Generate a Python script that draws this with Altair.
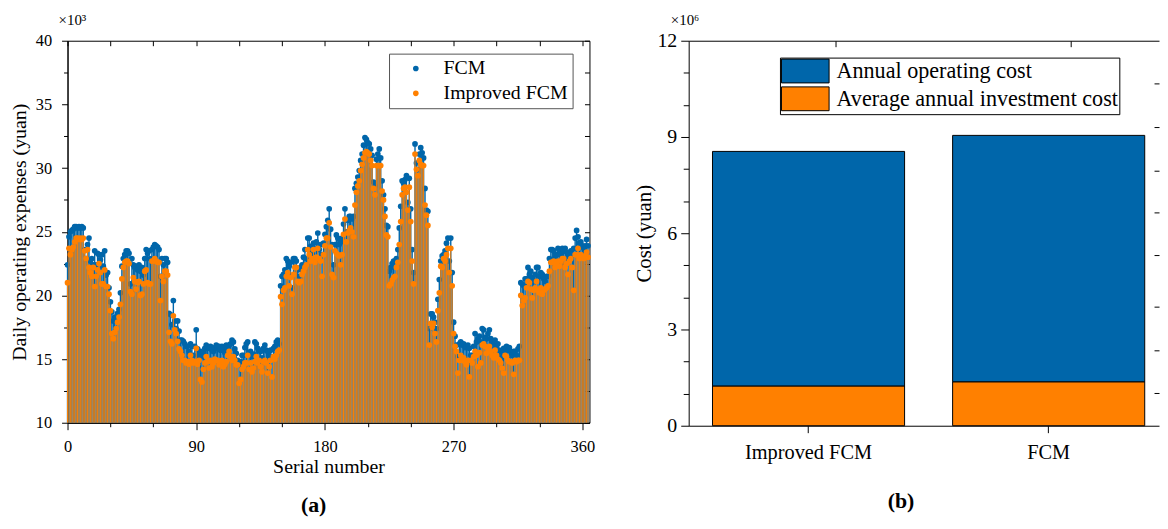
import altair as alt
import pandas as pd

BLUE = "#0066AA"
ORANGE = "#FF8000"
FONT = "Liberation Serif"

# ---------------- panel (a): daily operating expenses (x10^3 yuan) ----------------
fcm_a = [22.4, 24.6, 25.0, 25.1, 25.2, 25.4, 25.4, 25.3, 25.4, 25.3,
         25.4, 25.3, 23.6, 22.9, 24.0, 24.5, 22.7, 22.9, 22.4, 23.5,
         22.4, 23.3, 23.2, 22.8, 23.2, 22.3, 23.5, 21.6, 21.8, 20.6,
         19.5, 18.7, 18.0, 18.3, 18.3, 18.6, 18.9, 20.2, 22.3, 22.9,
         23.2, 23.5, 23.5, 23.3, 20.9, 22.9, 22.4, 22.2, 22.3, 22.0,
         22.4, 21.9, 22.2, 21.6, 22.9, 23.6, 23.3, 23.5, 22.9, 23.6,
         23.8, 24.0, 23.9, 23.8, 23.6, 21.5, 22.9, 22.4, 22.9, 22.9,
         22.6, 18.6, 18.5, 17.7, 19.6, 18.0, 17.4, 18.0, 17.2, 16.5,
         16.5, 16.4, 16.2, 16.0, 16.0, 15.6]
imp_a = [21.0, 23.7, 23.2, 23.6, 23.8, 24.2, 24.5, 24.5, 24.4, 24.5,
         24.4, 24.5, 23.5, 22.9, 23.6, 22.2, 21.8, 21.5, 22.2, 20.7,
         21.5, 22.0, 22.5, 21.8, 20.9, 20.9, 22.0, 20.7, 20.7, 20.1,
         18.8, 17.0, 16.6, 17.1, 17.4, 17.9, 18.3, 19.3, 21.3, 22.2,
         22.6, 22.7, 22.7, 22.5, 20.3, 20.1, 21.4, 21.1, 20.5, 21.0,
         21.1, 20.0, 20.1, 20.9, 21.9, 22.0, 21.0, 20.9, 20.9, 22.7,
         22.7, 22.9, 22.7, 22.6, 22.6, 19.6, 21.5, 21.1, 21.9, 21.9,
         21.6, 17.1, 16.4, 16.2, 18.4, 17.3, 17.0, 16.4, 15.8, 15.6,
         15.3, 14.9, 14.9, 14.7, 14.8, 14.6]
fcm_b = [16.2, 16.0, 15.3, 16.0, 17.3, 15.8, 15.3, 15.6, 15.2, 15.5,
         15.85, 16.1, 15.9, 15.85, 16.0, 15.7, 15.6, 15.9, 16.1, 15.85,
         16.0, 15.7, 16.0, 15.85, 15.5, 16.1, 15.85, 16.1, 16.2, 16.5,
         16.35, 15.8, 15.45, 14.9, 14.7, 14.8, 15.3, 15.3, 15.9, 16.2,
         16.35, 15.3, 15.6, 15.2, 15.4, 16.35, 16.2, 15.85, 15.7, 15.6,
         15.1, 15.85, 16.1, 15.7, 15.6, 15.3, 15.7, 15.1, 15.85, 16.0,
         16.35, 16.5, 16.2,
         20.75, 21.5, 21.65, 22.0, 22.9, 22.7, 22.3, 22.6, 20.6, 22.9,
         22.9, 22.7, 22.0, 21.5, 22.2, 22.4, 23.0, 23.6, 22.9, 24.5,
         24.5, 23.85, 23.3, 24.1, 23.7, 24.2, 24.9, 23.6, 24.0, 23.2,
         24.1, 24.8, 25.4]
imp_b = [15.3, 14.9, 14.7, 14.8, 15.85, 14.6, 14.9, 13.4, 13.2, 14.2,
         14.7, 15.2, 14.8, 14.3, 14.9, 14.4, 14.7, 15.0, 14.9, 14.9,
         14.55, 14.8, 14.9, 14.4, 14.6, 14.8, 15.3, 15.6, 15.2, 14.9,
         15.2, 14.9, 14.55, 14.55, 13.1, 13.4, 14.2, 14.4, 14.7, 14.7,
         15.3, 14.2, 14.7, 14.0, 14.3, 14.8, 15.2, 14.7, 14.9, 14.4,
         14.0, 14.8, 14.9, 14.7, 13.9, 14.4, 14.9, 13.6, 15.2, 15.0,
         15.3, 15.6, 15.7,
         19.9, 19.3, 20.4, 20.6, 21.5, 21.8, 20.75, 21.4, 20.1, 21.65,
         22.2, 22.2, 21.1, 21.0, 21.1, 21.65, 21.9, 22.2, 22.4, 23.6,
         23.2, 22.7, 22.9, 23.6, 22.6, 23.0, 23.7, 22.9, 22.7, 21.5,
         23.2, 23.9, 24.5]
fcm_c = [25.9, 26.8, 25.2, 24.0, 22.4, 24.0, 24.75, 24.5, 24.0, 24.2,
         24.5, 25.6, 26.8, 25.0, 25.9, 26.2, 26.2, 26.0, 26.2, 28.4,
         28.8, 29.3, 29.8, 30.6, 31.1, 31.8, 32.4, 32.25, 32.0, 31.9,
         31.5, 31.0, 28.9, 28.6, 30.7, 31.1, 31.5, 30.8, 29.0, 27.9,
         26.8, 25.5, 25.4, 21.9, 22.2, 22.5, 22.7, 22.7, 22.9, 23.6,
         25.3, 27.0, 29.0, 28.8, 29.1, 29.4, 27.3, 29.2, 26.8, 23.6,
         21.8, 31.9, 30.4, 29.9, 31.1, 31.6, 31.2, 30.8, 28.4, 26.7,
         26.6, 17.4, 18.55, 18.55, 18.3, 17.9, 17.4, 19.7, 21.25, 22.7,
         23.1, 23.2, 23.5, 24.1, 24.5, 22.7, 24.5, 21.8, 17.9, 16.8,
         16.1]
imp_c = [24.5, 25.7, 23.8, 21.65, 21.4, 23.5, 23.3, 23.2, 23.1, 22.4,
         23.2, 24.8, 26.0, 24.2, 24.9, 25.1, 25.3, 25.0, 24.6, 27.1,
         28.1, 28.6, 29.0, 29.8, 30.3, 30.8, 31.2, 31.3, 31.2, 31.1,
         30.6, 30.2, 28.4, 27.9, 30.2, 30.2, 30.2, 30.2, 28.2, 27.5,
         26.2, 24.75, 24.6, 20.75, 20.9, 21.2, 21.4, 21.5, 22.2, 22.6,
         24.0, 25.8, 27.9, 28.4, 28.5, 28.1, 26.7, 28.5, 25.8, 22.7,
         20.9, 31.1, 29.9, 29.4, 30.6, 30.3, 30.2, 30.2, 27.1, 26.3,
         25.5, 16.1, 17.8, 17.5, 17.8, 17.0, 16.35, 18.8, 20.2, 22.3,
         22.2, 22.9, 22.7, 23.2, 23.7, 21.8, 23.7, 20.75, 17.0, 16.0,
         15.6]
fcm_d = [15.2, 16.2, 16.35, 16.1, 16.2, 15.9, 16.0, 16.1, 15.85, 15.3,
         15.3, 16.0, 17.0, 16.35, 16.6, 16.8, 16.35, 17.4, 17.3, 16.7,
         16.6, 17.0, 17.3, 16.6, 16.35, 16.1, 16.5, 16.0, 16.2, 15.7,
         15.6, 15.2, 15.85, 15.6, 16.0, 15.7, 15.9, 15.6, 15.3, 15.6,
         15.6, 15.3, 15.8, 16.0,
         21.0, 20.9, 20.75, 21.3, 21.3, 22.2, 21.65, 21.9, 21.4, 21.1,
         21.65, 22.2, 22.2, 21.5, 21.8, 21.65, 21.3, 21.1, 21.5, 21.5,
         22.9, 23.6, 23.6, 23.5, 22.9, 23.2, 23.7, 23.5, 23.2, 23.7,
         23.5, 23.7, 23.4, 23.2, 22.9, 23.5, 23.2, 23.7, 24.5, 25.1,
         24.6, 24.1, 24.2, 23.9, 23.7, 23.9, 24.4, 23.9]
imp_d = [13.9, 14.9, 15.3, 14.9, 15.1, 14.8, 14.55, 14.9, 13.6, 14.9,
         14.7, 15.2, 15.6, 15.3, 14.4, 15.5, 14.7, 16.1, 16.2, 16.0,
         15.45, 15.8, 16.0, 15.6, 15.3, 15.1, 15.7, 15.3, 15.0, 14.9,
         14.7, 14.3, 13.9, 15.3, 15.2, 14.9, 14.8, 14.8, 14.7, 13.8,
         14.9, 14.8, 14.9, 14.9,
         20.0, 19.2, 19.6, 19.8, 20.6, 21.1, 21.0, 20.5, 19.8, 20.4,
         20.6, 21.1, 20.4, 20.2, 20.6, 20.1, 20.4, 20.5, 20.6, 20.75,
         21.9, 22.6, 22.6, 22.7, 22.2, 22.4, 22.7, 22.3, 22.7, 22.9,
         22.9, 22.2, 22.5, 21.65, 22.7, 22.9, 22.2, 20.4, 23.2, 23.2,
         23.7, 22.9, 23.2, 23.0, 22.9, 23.1, 23.4, 23.0]

fcm = fcm_a + fcm_b + fcm_c + fcm_d
imp = imp_a + imp_b + imp_c + imp_d
series_names = ["FCM", "Improved FCM"]

x_major_a = [0, 90, 180, 270, 360]
x_minor_a = [30, 60, 120, 150, 210, 240, 300, 330]
x_all_a = list(range(0, 361, 30))
y_major_a = [10, 15, 20, 25, 30, 35, 40]
y_minor_a = [12.5, 17.5, 22.5, 27.5, 32.5, 37.5]
y_all_a = [10, 12.5, 15, 17.5, 20, 22.5, 25, 27.5, 30, 32.5, 35, 37.5, 40]

# ---------------- panel (b): cost (x10^6 yuan) ----------------
methods = ["Improved FCM", "FCM"]
components = ["Annual operating cost", "Average annual investment cost"]
operating = [7.31, 7.68]
investment = [1.24, 1.37]
y_major_b = [0, 3, 6, 9, 12]
y_minor_b = [1, 2, 4, 5, 7, 8, 10, 11]
right_ticks_b = [1.02, 2.35, 3.70, 5.32, 6.66, 7.96, 9.31, 10.67]

W_A, H_A = 526, 385
W_B, H_B = 474, 388


def ax(**kw):
    base = dict(grid=False, domainColor="black", tickColor="black", labelColor="black",
                titleColor="black", labelFont=FONT, titleFont=FONT, titleFontWeight="normal",
                labelOverlap=False, labelFlush=False, domainWidth=1, tickWidth=1)
    base.update(kw)
    return alt.Axis(**base)


def guide_axis(values, size, **kw):
    return ax(values=values, tickSize=size, labels=False, title=None, domain=False, **kw)


days = list(range(len(fcm)))
df_f = pd.DataFrame({"day": days, "value": fcm, "series": series_names[0]})
df_i = pd.DataFrame({"day": days, "value": imp, "series": series_names[1]})
df_all = pd.concat([df_f, df_i], ignore_index=True)

xs_a = alt.Scale(domain=[0, 365], nice=False, zero=False)
ys_a = alt.Scale(domain=[10, 40], nice=False, zero=False)

x_main = alt.X("day:Q", scale=xs_a,
               axis=ax(values=x_major_a, tickSize=7, labelFontSize=16.5, labelPadding=9,
                       title="Serial number", titleFontSize=20, titlePadding=2))
y_main = alt.Y("value:Q", scale=ys_a,
               axis=ax(values=y_major_a, tickSize=6, labelFontSize=16.5, labelPadding=10,
                       title="Daily operating expenses (yuan)", titleFontSize=20, titlePadding=6))

leg_a = alt.Legend(title=None, orient="none", legendX=324, legendY=13, direction="vertical",
                   labelFont=FONT, labelFontSize=20, labelColor="black", symbolSize=32,
                   symbolType="circle", symbolStrokeWidth=0, symbolOpacity=1, padding=5,
                   rowPadding=5, symbolOffset=12, labelOffset=18, strokeColor="#555555",
                   fillColor="white")
color_a = alt.Color("series:N", scale=alt.Scale(domain=series_names, range=[BLUE, ORANGE]),
                    legend=leg_a)

stem_f = alt.Chart(df_f).mark_rule(strokeWidth=1.4, color=BLUE).encode(x=x_main, y=y_main, y2=alt.datum(10))
dot_f = alt.Chart(df_f).mark_circle(size=33, opacity=1).encode(x=x_main, y=y_main, color=color_a)
stem_i = alt.Chart(df_i).mark_rule(strokeWidth=1, color=ORANGE).encode(x=x_main, y=y_main, y2=alt.datum(10))
dot_i = alt.Chart(df_i).mark_circle(size=33, opacity=1).encode(x=x_main, y=y_main, color=color_a)
data_a = alt.layer(stem_f, dot_f, stem_i, dot_i)

minor_a = alt.Chart(df_all).mark_point(opacity=0).encode(
    x=alt.X("day:Q", scale=xs_a, axis=guide_axis(x_minor_a, 4, orient="bottom")),
    y=alt.Y("value:Q", scale=ys_a, axis=guide_axis(y_minor_a, 4, orient="left")),
)
mirror_a = alt.Chart(df_all).mark_point(opacity=0).encode(
    x=alt.X("day:Q", scale=xs_a, axis=guide_axis(x_all_a, 5, orient="bottom", offset=-H_A)),
    y=alt.Y("value:Q", scale=ys_a, axis=guide_axis(y_all_a, 5, orient="left", offset=-W_A)),
)
sci_a = alt.Chart(alt.Data(values=[{"t": "×10³"}])).mark_text(
    font=FONT, fontSize=15, align="left", baseline="alphabetic", color="black"
).encode(text="t:N", x=alt.value(-9), y=alt.value(-16))

panel_a = alt.layer(data_a, minor_a, mirror_a, sci_a).resolve_scale(
    x="independent", y="independent"
).properties(
    width=W_A, height=H_A,
    title=alt.TitleParams("(a)", orient="bottom", anchor="middle", frame="group", offset=18,
                          dx=-15, font=FONT, fontSize=22, fontWeight="bold", color="black"),
)

# ---------------- panel (b) ----------------
rows = []
for m, op, inv in zip(methods, operating, investment):
    rows.append({"method": m, "component": components[1], "cost": inv, "ord": 0})
    rows.append({"method": m, "component": components[0], "cost": op, "ord": 1})
df_b = pd.DataFrame(rows)

xs_b = alt.Scale(domain=methods, paddingInner=0.2, paddingOuter=0.0793, align=0.625)
ys_b = alt.Scale(domain=[0, 12], nice=False, zero=True)

leg_b = alt.Legend(title=None, orient="none", legendX=92, legendY=17, direction="vertical",
                   labelFont=FONT, labelFontSize=22.3, labelColor="black",
                   symbolType="M-1,-1H3V1H-1Z", symbolSize=576, symbolStrokeColor="black",
                   symbolStrokeWidth=1, symbolOpacity=1, padding=1, rowPadding=-1, labelOffset=31,
                   strokeColor="black", fillColor="white", labelLimit=400)

bars = alt.Chart(df_b).mark_bar(stroke="black", strokeWidth=1).encode(
    x=alt.X("method:N", scale=xs_b,
            axis=ax(title=None, labelAngle=0, tickSize=7, labelFontSize=20.5, labelPadding=10)),
    y=alt.Y("cost:Q", stack="zero", scale=ys_b,
            axis=ax(values=y_major_b, tickSize=8, labelFontSize=20, labelPadding=4,
                    title="Cost (yuan)", titleFontSize=21, titlePadding=2)),
    color=alt.Color("component:N", scale=alt.Scale(domain=components, range=[BLUE, ORANGE]),
                    legend=leg_b),
    order=alt.Order("ord:Q"),
)
minor_b = alt.Chart(df_b).mark_point(opacity=0).encode(
    x=alt.X("method:N", scale=xs_b, axis=None),
    y=alt.Y("cost:Q", scale=ys_b, axis=guide_axis(y_minor_b, 5.5, orient="left")),
)
mirror_b = alt.Chart(df_b).mark_point(opacity=0).encode(
    x=alt.X("method:N", scale=xs_b,
            axis=ax(orient="bottom", offset=-H_B, labels=False, title=None, tickSize=6, domain=True)),
    y=alt.Y("cost:Q", scale=ys_b, axis=guide_axis(right_ticks_b, 5, orient="left", offset=-W_B)),
)
sci_b = alt.Chart(alt.Data(values=[{"t": "×10⁶"}])).mark_text(
    font=FONT, fontSize=15, align="left", baseline="alphabetic", color="black"
).encode(text="t:N", x=alt.value(-18), y=alt.value(-16))

panel_b = alt.layer(bars, minor_b, mirror_b, sci_b).resolve_scale(
    x="independent", y="independent"
).properties(
    width=W_B, height=H_B,
    view=alt.ViewBackground(stroke="transparent"),
    title=alt.TitleParams("(b)", orient="bottom", anchor="middle", frame="group", offset=28,
                          dx=-23, font=FONT, fontSize=22, fontWeight="bold", color="black"),
)

chart = alt.hconcat(panel_a, panel_b, spacing=38).resolve_scale(
    color="independent"
).resolve_legend(color="independent").properties(
    padding={"left": 1, "top": 2, "right": 0, "bottom": 0}
).configure_view(stroke="black", strokeWidth=1)

chart.save("out.html", embed_options={"renderer": "svg", "actions": False})
